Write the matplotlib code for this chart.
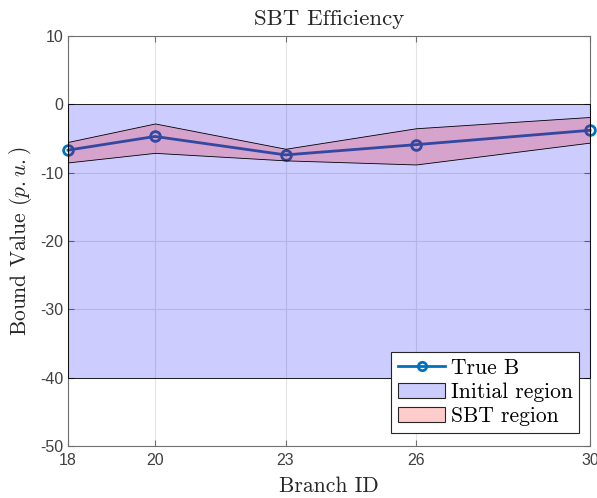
import numpy as np
import matplotlib
matplotlib.use("Agg")
import matplotlib.pyplot as plt
from matplotlib.patches import Patch
from matplotlib.lines import Line2D

#Branch ids and bound values
branchIds = [18, 20, 23, 26, 30]
trueB = [-6.7, -4.7, -7.4, -5.9, -3.8]
sbtUpper = [-5.5, -2.8, -6.5, -3.5, -1.85]
sbtLower = [-8.5, -7.1, -8.2, -8.8, -5.6]
initialUpper = [0, 0, 0, 0, 0]
initialLower = [-40, -40, -40, -40, -40]
xTicks = [18, 20, 23, 26, 30]
yTicks = [-50, -40, -30, -20, -10, 0, 10]

plt.rcParams['axes.unicode_minus'] = False
plt.rcParams['mathtext.fontset'] = 'cm'
axisGray = '#262626'
spineGray = '#707070'
serifFont = 'cmr10'

fig = plt.figure(figsize=(5.97, 4.98), dpi=100)
ax = fig.add_axes([0.1139, 0.1044, 0.8744, 0.8233])

#Line first, fills drawn over it with transparency like the original
ax.plot(branchIds, trueB, color='#0072BD', linewidth=2, marker='o', markersize=7,
        markerfacecolor='none', markeredgewidth=2, zorder=2, clip_on=False)
ax.fill_between(branchIds, initialLower, initialUpper, facecolor=(0, 0, 1, 0.2),
                edgecolor='black', linewidth=0.6, zorder=3)
ax.fill_between(branchIds, sbtLower, sbtUpper, facecolor=(1, 0, 0, 0.2),
                edgecolor='black', linewidth=0.6, zorder=4)

ax.set_xlim(18, 30)
ax.set_ylim(-50, 10)
ax.set_xticks(xTicks)
ax.set_yticks(yTicks)
ax.tick_params(direction='in', length=4, colors=spineGray, labelcolor='#404040',
               labelsize=11.5, top=True, right=True)
ax.tick_params(axis='x', pad=5)
for tickLabel in ax.get_xticklabels() + ax.get_yticklabels():
    tickLabel.set_fontfamily('Liberation Sans')
for spine in ax.spines.values():
    spine.set_color(spineGray)
    spine.set_linewidth(0.8)
ax.grid(True, color='#e3e3e3', linewidth=0.8)
ax.set_axisbelow(True)

ax.set_title('SBT Efficiency', fontfamily=serifFont, fontsize=16.5, color=axisGray, pad=8)
ax.set_xlabel('Branch ID', fontfamily=serifFont, fontsize=15.5, color=axisGray, labelpad=6)
ax.set_ylabel(r'Bound Value ($p.u.$)', fontfamily=serifFont, fontsize=15.5, color=axisGray, labelpad=4)

legendHandles = [
    Line2D([0], [0], color='#0072BD', linewidth=2, marker='o', markersize=6,
           markerfacecolor='none', markeredgewidth=2),
    Patch(facecolor=(0.8, 0.8, 1), edgecolor=axisGray, linewidth=0.8),
    Patch(facecolor=(1, 0.8, 0.8), edgecolor=axisGray, linewidth=0.8),
]
legend = ax.legend(legendHandles, ['True B', 'Initial region', 'SBT region'],
                   loc='lower right', bbox_to_anchor=(0.979, 0.032),
                   prop={'family': serifFont, 'size': 15.5}, fancybox=False,
                   framealpha=1, edgecolor=axisGray, borderpad=0.3,
                   handlelength=2.2, handletextpad=0.25, labelspacing=0.22, borderaxespad=0)
legend.get_frame().set_linewidth(0.8)
legend.set_zorder(10)

fig.savefig('out.png', dpi=100)
